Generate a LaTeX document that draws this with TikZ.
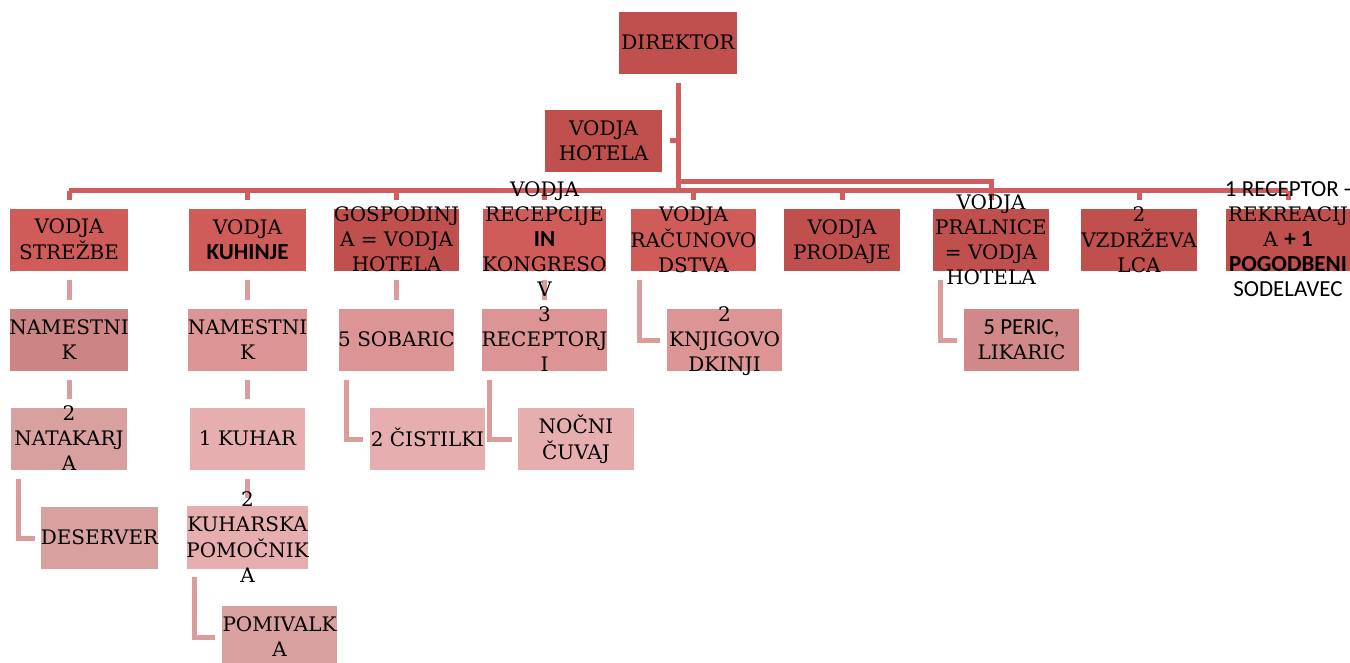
\documentclass[tikz,border=0pt]{standalone}
\usepackage{fontspec}
\usetikzlibrary{backgrounds}
\setmainfont{DejaVu Serif}
\newfontfamily\sansf{Carlito}
\definecolor{topred}{HTML}{C0504D}
\definecolor{litred}{HTML}{D05C5A}
\definecolor{pinkA}{HTML}{CC8584}
\definecolor{pinkB}{HTML}{DC9594}
\definecolor{pinkC}{HTML}{D18888}
\definecolor{roseA}{HTML}{D9A0A0}
\definecolor{roseB}{HTML}{E6AEAE}
\definecolor{linkred}{HTML}{D05E5E}
\definecolor{linkpink}{HTML}{DA9C9C}
\newcommand{\boxtxt}[1]{\smash{\raisebox{-7pt}{\begin{tabular}[c]{@{}c@{}}#1\end{tabular}}}}
\newcommand{\sw}[1]{{\sansf\fontsize{23}{25}\selectfont #1}}
\newcommand{\swb}[1]{{\sansf\bfseries\fontsize{23}{25}\selectfont #1}}
\begin{document}
\begin{tikzpicture}[x=1pt,y=-1pt,
	org/.style={rectangle,draw=white,line width=1.2pt,inner sep=0pt,minimum width=117pt,minimum height=64pt,font=\fontsize{20}{25}\selectfont},
	link/.style={draw=linkred,line width=5pt},
	sublink/.style={draw=linkpink,line width=5pt}]
	\clip (0,0) rectangle (1350,663);
	\coordinate (hub) at (678,191);
	% top
	\node[org,fill=topred,minimum width=120pt] (dir) at (678,43) {\boxtxt{DIREKTOR}};
	\node[org,fill=topred,minimum width=119pt] (hot) at (603.5,141) {\boxtxt{VODJA\\HOTELA}};
	% first row
	\node[org,fill=litred,minimum width=119pt] (stre) at (69,240) {\boxtxt{VODJA\\STREŽBE}};
	\node[org,fill=litred,minimum width=118pt] (kuh) at (247.5,240) {\boxtxt{VODJA\\\swb{KUHINJE}}};
	\node[org,fill=topred] (gosp) at (396.5,240) {\boxtxt{GOSPODINJ\\A = VODJA\\HOTELA}};
	\node[org,fill=litred] (rec) at (544.5,240) {\boxtxt{VODJA\\RECEPCIJE\\\swb{IN}\\KONGRESO\\V}};
	\node[org,fill=litred] (rac) at (693.5,240) {\boxtxt{VODJA\\RAČUNOVO\\DSTVA}};
	\node[org,fill=topred] (prod) at (842,240) {\boxtxt{VODJA\\PRODAJE}};
	\node[org,fill=topred] (pral) at (991,240) {\boxtxt{VODJA\\PRALNICE\\= VODJA\\HOTELA}};
	\node[org,fill=topred] (vzd) at (1139,240) {\boxtxt{2\\VZDRŽEVA\\LCA}};
	\node[org,fill=topred,minimum width=118pt] (rekr) at (1288,240) {\boxtxt{\sw{1 RECEPTOR -}\\REKREACIJ\\A \swb{+ 1}\\\swb{POGODBENI}\\\sw{SODELAVEC}}};
	% second row
	\node[org,fill=pinkA] (nam1) at (69,340) {\boxtxt{NAMESTNI\\K}};
	\node[org,fill=pinkB] (nam2) at (247.5,340) {\boxtxt{NAMESTNI\\K}};
	\node[org,fill=pinkB] (sob) at (396.5,340) {\boxtxt{5 SOBARIC}};
	\node[org,fill=pinkB] (rcp) at (544.5,340) {\boxtxt{3\\RECEPTORJ\\I}};
	\node[org,fill=pinkB] (knj) at (724.5,340) {\boxtxt{2\\KNJIGOVO\\DKINJI}};
	\node[org,fill=pinkC] (per) at (1021.5,340) {\boxtxt{\sw{5 PERIC,}\\LIKARIC}};
	% third row
	\node[org,fill=roseA] (nat) at (69,439) {\boxtxt{2\\NATAKARJ\\A}};
	\node[org,fill=roseB] (kuhar) at (247.5,439) {\boxtxt{1 KUHAR}};
	\node[org,fill=roseB] (cis) at (427.5,439) {\boxtxt{2 ČISTILKI}};
	\node[org,fill=roseB] (cuv) at (576,439) {\boxtxt{NOČNI\\ČUVAJ}};
	% lower rows
	\node[org,fill=roseA] (des) at (99.5,538) {\boxtxt{DESERVER}};
	\node[org,fill=roseB] (pom) at (247.5,537.5) {\boxtxt{2\\KUHARSKA\\POMOČNIK\\A}};
	\node[org,fill=roseA] (pomi) at (279.5,637) {\boxtxt{POMIVALK\\A}};
	% connectors
	\begin{scope}[on background layer]
	\draw[link] ([yshift=-7pt]dir.south) -- (hub);
	\draw[link] (dir.south |- hot.east) -- ([xshift=6pt]hot.east);
	\draw[link] (stre.north |- hub) -- (rekr.north |- hub);
	\draw[link] (dir.south |- 0,182) -| ([yshift=7pt]pral.north);
	\foreach \n in {stre,kuh,gosp,rec,rac,prod,pral,vzd,rekr}
		\draw[link] (\n.north |- hub) -- ([yshift=7pt]\n.north);
	\draw[sublink,shorten <=7pt,shorten >=7pt] (stre.south) -- (nam1.north);
	\draw[sublink,shorten <=7pt,shorten >=7pt] (nam1.south) -- (nat.north);
	\draw[sublink,shorten <=7pt,shorten >=7pt] (kuh.south) -- (nam2.north);
	\draw[sublink,shorten <=7pt,shorten >=7pt] (nam2.south) -- (kuhar.north);
	\draw[sublink,shorten <=7pt,shorten >=7pt] (kuhar.south) -- (pom.north);
	\draw[sublink,shorten <=7pt,shorten >=7pt] (gosp.south) -- (sob.north);
	\draw[sublink,shorten <=7pt,shorten >=7pt] (rec.south) -- (rcp.north);
	\draw[sublink] ([xshift=9pt,yshift=-7pt]nat.south west) |- ([xshift=-5pt]des.west);
	\draw[sublink] ([xshift=9pt,yshift=-7pt]pom.south west) |- ([xshift=-5pt]pomi.west);
	\draw[sublink] ([xshift=9pt,yshift=-7pt]sob.south west) |- ([xshift=-5pt]cis.west);
	\draw[sublink] ([xshift=9pt,yshift=-7pt]rcp.south west) |- ([xshift=-5pt]cuv.west);
	\draw[sublink] ([xshift=9pt,yshift=-7pt]rac.south west) |- ([xshift=-5pt]knj.west);
	\draw[sublink] ([xshift=9pt,yshift=-7pt]pral.south west) |- ([xshift=-5pt]per.west);
	\end{scope}
\end{tikzpicture}
\end{document}
